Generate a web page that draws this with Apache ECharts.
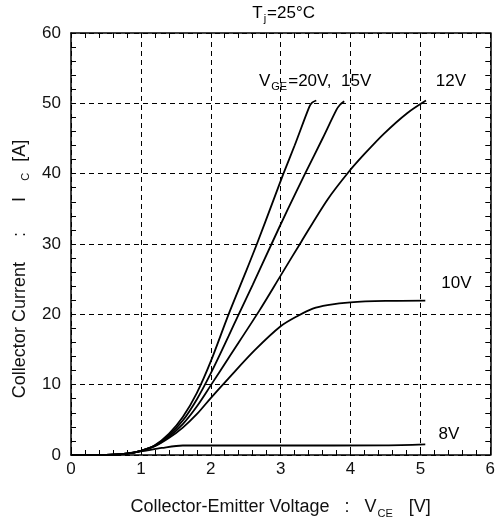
<!DOCTYPE html>
<html>
<head>
<meta charset="utf-8">
<script src="https://cdn.jsdelivr.net/npm/echarts@6/dist/echarts.min.js"></script>
<style>html,body{margin:0;padding:0;background:#fff}#c{width:498px;height:524px}</style>
</head>
<body>
<div id="c"></div>
<script>
// V_CE [V], I_C [A]
const vge20 = [[0,0],[0.5,0.02],[0.8,0.2],[1.0,0.6],[1.2,1.4],[1.4,3.0],[1.6,5.4],[1.8,8.8],[2.0,13.3],[2.255,20],[2.5,26],[2.66,30],[2.9,36.3],[3.04,40],[3.2,44],[3.41,49.5],[3.45,50.1],[3.51,50.4]];
const vge15 = [[0,0],[0.5,0.02],[0.8,0.2],[1.0,0.6],[1.2,1.35],[1.4,2.8],[1.6,4.9],[1.8,7.9],[2.0,11.6],[2.255,16.9],[2.4,20],[2.6,24.2],[2.87,30],[3.1,34.9],[3.35,40],[3.6,45],[3.8,49.1],[3.85,49.8],[3.91,50.3]];
const vge12 = [[0,0],[0.5,0.02],[0.8,0.2],[1.0,0.6],[1.2,1.3],[1.4,2.6],[1.6,4.4],[1.8,6.9],[2.0,9.9],[2.255,13.8],[2.7,20.6],[3.0,25.5],[3.3,30.4],[3.67,36.3],[3.97,40.2],[4.2,42.8],[4.48,45.7],[4.81,48.6],[5.08,50.4]];
const vge10 = [[0,0],[0.5,0.02],[0.8,0.2],[1.0,0.6],[1.2,1.25],[1.4,2.4],[1.6,3.9],[1.8,5.8],[2.0,8.1],[2.255,10.9],[2.63,14.9],[3.0,18.3],[3.25,19.8],[3.46,20.8],[3.67,21.3],[4.0,21.7],[4.5,21.9],[5.07,21.95]];
const vge8 = [[0,0],[0.5,0.02],[0.7,0.1],[1.0,0.5],[1.3,1.0],[1.6,1.35],[3.0,1.35],[4.5,1.37],[5.07,1.5]];

const xTicks = [0,1,2,3,4,5,6];
const yTicks = [0,10,20,30,40,50,60];

// curve labels: [V, I, text]
const curveLabels = [
  [2.69, 53.2, '{n|V}{s|GE}{n|=20V,  15V}'],
  [5.22, 53.2, '{n|12V}'],
  [5.3, 24.4, '{n|10V}'],
  [5.26, 2.9, '{n|8V}']
];
const titleText = '{n|T}{s|j}{n|=25°C}';
const xName = '{m|Collector-Emitter Voltage   :   V}{s|CE}{m|   [V]}';
const yName = '{m|Collector Current     :      I}{s|     C}{m|  [A]}';

const FONT = '"Liberation Sans", Arial, sans-serif';
const FS = 17;
const INK = '#111';
const rich = {
  n: {fontSize: FS, fontFamily: FONT, color: INK, lineHeight: 20},
  s: {fontSize: 11, fontFamily: FONT, color: INK, padding: [12, 1, 0, 1]},
  m: {fontSize: 18, fontFamily: FONT, color: INK, lineHeight: 20}
};

const chart = echarts.init(document.getElementById('c'));
const xMin = xTicks[0], xMax = xTicks[xTicks.length-1];
const yMin = yTicks[0], yMax = yTicks[yTicks.length-1];

function baseAxis(min, max, interval) {
  return {
    type: 'value', min: min, max: max, interval: interval,
    axisLine: {show: true, onZero: false, lineStyle: {color: '#000', width: 1.5}},
    axisTick: {show: true, inside: true, length: 5, lineStyle: {color: '#000', width: 1}},
    minorTick: {show: true, splitNumber: 5, length: 5, lineStyle: {color: '#000', width: 1}},
    splitLine: {show: false},
    axisLabel: {show: false}
  };
}

const xMain = Object.assign(baseAxis(xMin, xMax, 1), {
  position: 'bottom',
  splitLine: {show: true, lineStyle: {color: '#000', width: 1, type: [5, 4]}},
  axisLabel: {show: true, fontSize: FS, fontFamily: FONT, color: INK, margin: 6},
  name: xName,
  nameLocation: 'middle', nameGap: 41,
  nameTextStyle: {rich: rich}
});
const xTop = Object.assign(baseAxis(xMin, xMax, 1), {position: 'top'});
const yMain = Object.assign(baseAxis(yMin, yMax, 10), {
  position: 'left',
  splitLine: {show: true, lineStyle: {color: '#000', width: 1, type: [5, 4]}},
  axisLabel: {show: true, fontSize: FS, fontFamily: FONT, color: INK, margin: 10},
  name: yName,
  nameLocation: 'middle', nameGap: 25,
  nameTextStyle: {rich: rich, padding: [0, 50, 0, 0]}
});
const yRight = Object.assign(baseAxis(yMin, yMax, 10), {position: 'right'});

function line(data) {
  return {
    type: 'line', data: data, xAxisIndex: 0, yAxisIndex: 0,
    showSymbol: false, smooth: 0.3,
    lineStyle: {color: '#000', width: 1.8}, silent: true, animation: false
  };
}

chart.setOption({
  animation: false,
  backgroundColor: '#fff',
  grid: {left: 71, right: 4, top: 33, bottom: 67, containLabel: false},
  xAxis: [xMain, xTop],
  yAxis: [yMain, yRight],
  series: [line(vge20), line(vge15), line(vge12), line(vge10), line(vge8)]
});

const gr = [];
const c0 = chart.convertToPixel({gridIndex: 0}, [xMin, yMax]);
const c1 = chart.convertToPixel({gridIndex: 0}, [xMax, yMax]);
gr.push({
  type: 'text', x: (c0[0] + c1[0]) / 2 + 3, y: c0[1] - 20,
  style: {text: titleText, rich: rich, align: 'center', verticalAlign: 'middle'}
});
curveLabels.forEach(function (l) {
  const p = chart.convertToPixel({gridIndex: 0}, [l[0], l[1]]);
  gr.push({type: 'text', x: p[0], y: p[1], style: {text: l[2], rich: rich, align: 'left', verticalAlign: 'middle'}});
});
chart.setOption({graphic: gr});
</script>
</body>
</html>
